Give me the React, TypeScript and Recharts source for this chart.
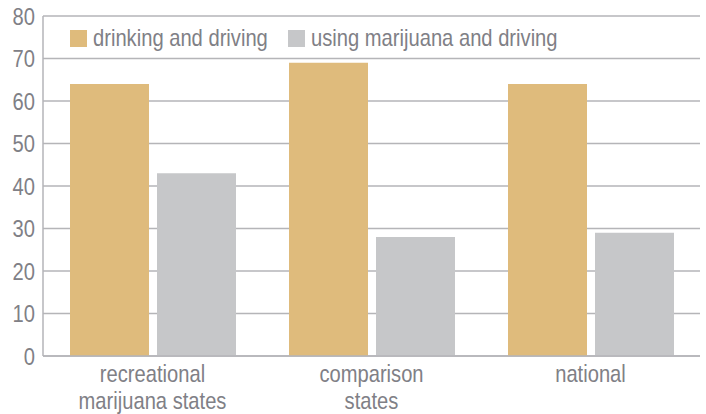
import React from 'react';
import { BarChart, Bar, XAxis, YAxis, CartesianGrid } from 'recharts';

const categories = ['recreational\nmarijuana states', 'comparison\nstates', 'national'];
const drinking = [64, 69, 64];
const marijuana = [43, 28, 29];
const yTicks = [0, 10, 20, 30, 40, 50, 60, 70, 80];
const seriesNames = ['drinking and driving', 'using marijuana and driving'];
const seriesColors = ['#dfbb7c', '#c6c7c9'];

const data = categories.map((c, i) => ({ name: c, drinking: drinking[i], marijuana: marijuana[i] }));

// no condensed face installed, so squeeze Liberation Sans horizontally
const FONT = '"Liberation Sans", Arial, sans-serif';
const SQUEEZE = 0.84;
const TEXT = '#808086';
const LINE = '#b5b5b8';

function CategoryTick({ x, y, payload }: any) {
  const lines = String(payload.value).split('\n');
  return (
    <g transform={`translate(${x},${y}) scale(${SQUEEZE},1)`}>
      {lines.map((l, i) => (
        <text key={i} x={0} y={26 + i * 27} textAnchor="middle" fill={TEXT} fontFamily={FONT} fontSize={24}>
          {l}
        </text>
      ))}
    </g>
  );
}

function ValueTick({ x, y, payload }: any) {
  return (
    <g transform={`translate(${x},${y}) scale(${SQUEEZE},1)`}>
      <text x={0} y={0} dy="0.355em" textAnchor="end" fill={TEXT} fontFamily={FONT} fontSize={24}>
        {payload.value}
      </text>
    </g>
  );
}

const legendLeft = [70, 288];

export default function App() {
  return (
    <div style={{ position: 'absolute', left: 0, top: 0, width: 706, height: 414, background: '#fff' }}>
      <BarChart
        width={706}
        height={414}
        data={data}
        margin={{ top: 16, right: 6, left: 0, bottom: 0 }}
        barSize={79}
        barGap={8}
      >
        <CartesianGrid vertical={false} stroke={LINE} strokeWidth={1.5} />
        <XAxis
          dataKey="name"
          height={58}
          tickLine={false}
          tickSize={0}
          tickMargin={0}
          axisLine={{ stroke: LINE, strokeWidth: 1.5 }}
          tick={<CategoryTick />}
          interval={0}
        />
        <YAxis
          width={43}
          domain={[0, 80]}
          ticks={yTicks}
          tickLine={false}
          tickSize={0}
          tickMargin={8}
          axisLine={{ stroke: LINE, strokeWidth: 1.5 }}
          tick={<ValueTick />}
        />
        <Bar dataKey="drinking" fill={seriesColors[0]} isAnimationActive={false} />
        <Bar dataKey="marijuana" fill={seriesColors[1]} isAnimationActive={false} />
      </BarChart>
      {seriesNames.map((n, i) => (
        <div
          key={n}
          style={{ position: 'absolute', left: legendLeft[i], top: 26, height: 24, lineHeight: '24px', whiteSpace: 'nowrap', fontFamily: FONT, fontSize: 24, color: TEXT }}
        >
          <span style={{ position: 'absolute', left: 0, top: 4, width: 17, height: 17, background: seriesColors[i] }} />
          <span style={{ position: 'absolute', left: 23, top: 0, transform: `scaleX(${SQUEEZE})`, transformOrigin: 'left' }}>{n}</span>
        </div>
      ))}
    </div>
  );
}
